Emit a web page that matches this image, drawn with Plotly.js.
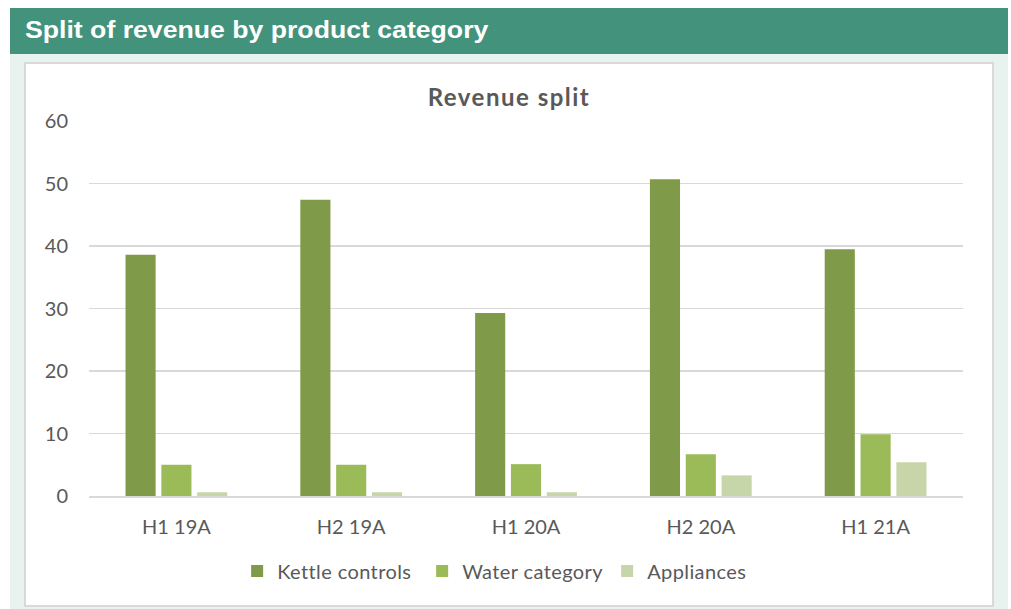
<!DOCTYPE html>
<html>
<head>
<meta charset="utf-8">
<script src="https://cdn.plot.ly/plotly-3.0.1.min.js"></script>
<style>
  html, body { margin:0; padding:0; background:#ffffff; width:1011px; height:609px; overflow:hidden; }
  #header { position:absolute; left:10px; top:8px; width:998px; height:46px; background:#43937C; }
  #header span { position:absolute; left:15px; top:8px; color:#ffffff; font-family:"Liberation Sans", Arial, sans-serif; font-weight:bold; font-size:24px; transform:scaleX(1.11); transform-origin:left center; white-space:nowrap; }
  #panel { position:absolute; left:10px; top:54px; width:998px; height:555px; background:#E8F2EF; }
  #box { position:absolute; left:24px; top:62px; width:966px; height:541px; background:#ffffff; border:2px solid #D9D9D9; }
  #chart { position:absolute; left:0; top:0; width:966px; height:541px; }
  #chart .gtitle { letter-spacing:1.5px; }
  #chart .legendtext { letter-spacing:0.4px; }
</style>
</head>
<body>
<div id="header"><span>Split of revenue by product category</span></div>
<div id="panel"></div>
<div id="box"><div id="chart"></div></div>
<script>
const categories = ["H1 19A", "H2 19A", "H1 20A", "H2 20A", "H1 21A"];
const kettleControls = [38.6, 47.4, 29.3, 50.7, 39.5];
const waterCategory = [5.0, 5.0, 5.1, 6.7, 9.9];
const appliances = [0.6, 0.6, 0.6, 3.3, 5.4];
const yTicks = [0, 10, 20, 30, 40, 50, 60];

const fontFam = "Lato, 'Open Sans', sans-serif";
const grey = "#595959";

const traces = [
  { type:"bar", name:"Kettle controls", x:categories, y:kettleControls, marker:{color:"#7F9A48"} },
  { type:"bar", name:"Water category", x:categories, y:waterCategory, marker:{color:"#9BBB59"} },
  { type:"bar", name:"Appliances", x:categories, y:appliances, marker:{color:"#C6D6A8"} }
];

const layout = {
  width:966, height:541,
  margin:{l:63, r:29, t:57, b:109},
  paper_bgcolor:"#ffffff", plot_bgcolor:"#ffffff",
  barmode:"group", bargap:0.385, bargroupgap:0.16,
  title:{ text:"<b>Revenue split</b>", font:{family:fontFam, size:24, color:grey}, x:0.5, xanchor:"center", xref:"container", y:1-34/541, yanchor:"middle", yref:"container" },
  xaxis:{ type:"category", tickfont:{family:fontFam, size:20, color:grey}, showgrid:false, showline:true, linecolor:"#D9D9D9", linewidth:1.5, ticks:"", ticklabelstandoff:12 },
  yaxis:{ range:[0,60], tickvals:yTicks, ticktext:yTicks.map(String), tickfont:{family:fontFam, size:20, color:grey}, showgrid:true, gridcolor:"#D9D9D9", gridwidth:1.5, zeroline:false, showline:false, ticks:"", ticklabelstandoff:20 },
  showlegend:true,
  legend:{ orientation:"h", x:0.487, xanchor:"center", y:-0.2, yanchor:"middle", font:{family:fontFam, size:20, color:grey}, itemwidth:30, entrywidth:140, entrywidthmode:"pixels", traceorder:"normal" },
  font:{family:fontFam, color:grey}
};

Plotly.newPlot("chart", traces, layout, {displayModeBar:false, staticPlot:true});
</script>
</body>
</html>
